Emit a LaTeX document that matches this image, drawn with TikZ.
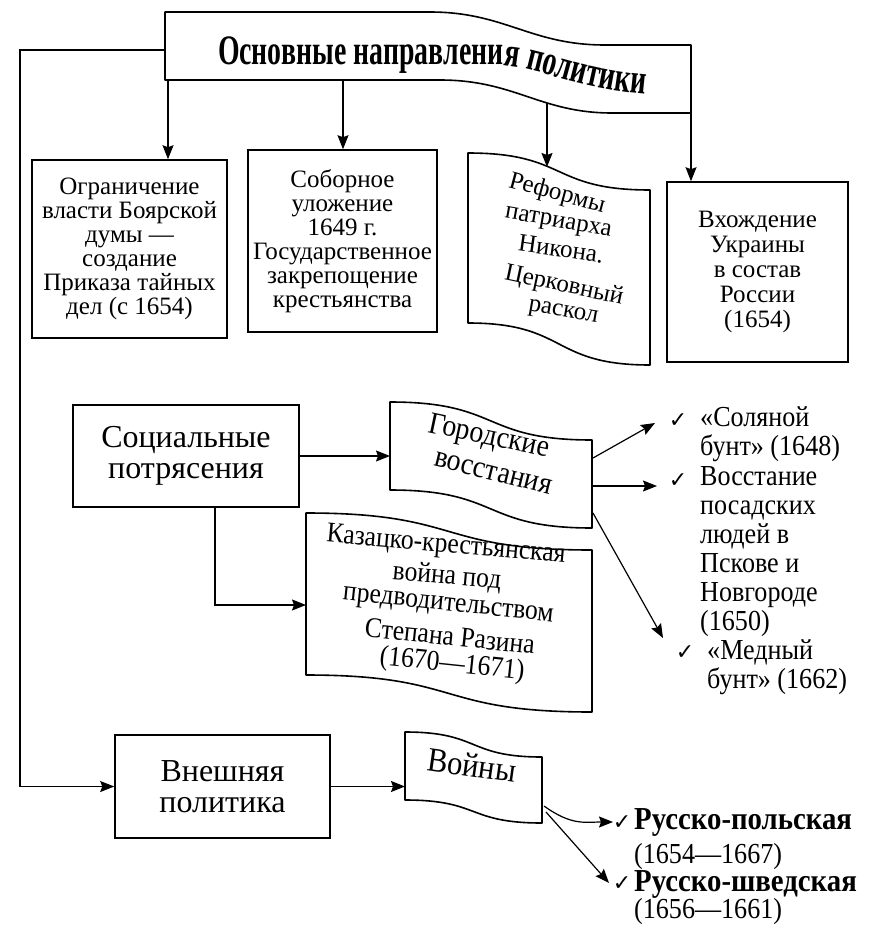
\documentclass[tikz,border=0pt]{standalone}
\usepackage{fontspec}
\setmainfont{Liberation Serif}
\newfontfamily\cond[FakeStretch=0.9]{Liberation Serif}
\newfontfamily\titlef[FakeStretch=0.66]{Liberation Serif}
\newfontfamily\symf{DejaVu Sans}
\usetikzlibrary{arrows.meta,decorations.text,calc}
\tikzset{
  boxline/.style={line width=1.6pt, line join=round},
  rectbox/.style={draw, line width=1.6pt, inner sep=0pt, align=center},
  arr/.style={line width=1.2pt, -{Stealth[length=14pt,width=11pt,inset=2pt]}},
  txtA/.style={inner sep=0pt, align=center, font=\fontsize{25}{24}\selectfont},
  txtB/.style={inner sep=0pt, align=center, font=\cond\fontsize{31}{31}\selectfont},
  txtK/.style={inner sep=0pt, align=center, font=\cond\fontsize{28.5}{28}\selectfont},
  txtR/.style={inner sep=0pt, align=center, font=\fontsize{32}{31}\selectfont},
  txtL/.style={inner sep=0pt, align=left, font=\cond\fontsize{29}{29}\selectfont},
  txtBold/.style={inner sep=0pt, align=left, font=\cond\bfseries\fontsize{32}{30}\selectfont},
  chk/.style={inner sep=0pt, font=\symf\fontsize{22}{22}\selectfont},
}
\newcommand{\wave}[6]{%
  \draw[boxline] (#1,#3) .. controls ({#1+0.55*(#2-#1)},#3) and ({#1+0.45*(#2-#1)},#4) .. (#2,#4)
    -- (#2,#6) .. controls ({#1+0.45*(#2-#1)},#6) and ({#1+0.55*(#2-#1)},#5) .. (#1,#5) -- cycle;}
\begin{document}
\begin{tikzpicture}[x=1pt,y=-1pt]
\useasboundingbox (0,0) rectangle (870,932);

% ---------- banner ----------
\draw[boxline] (165,12) -- (430,12) .. controls (505,12) and (530,45) .. (605,45) -- (691,45)
  -- (691,113) -- (612,113) .. controls (540,113) and (515,80) .. (440,80) -- (165,80) -- cycle;
\path[decorate, decoration={text along path, text align=left,
  text={|\titlef\bfseries\fontsize{42}{42}\selectfont|Основные направления политики}}]
  (218,64) -- (497,65) .. controls (540,66) and (580,92) .. (665,95);
\coordinate (banW) at (165,50);
\coordinate (ban1) at (168,80);
\coordinate (ban2) at (343,80);
\coordinate (ban3) at (547,103);
\coordinate (ban4) at (691,113);

% ---------- top row ----------
\node[rectbox, txtA, minimum width=195, minimum height=178] (b1) at (129.5,249)
  {Ограничение\\власти Боярской\\думы —\\создание\\Приказа тайных\\дел (с 1654)};
\node[rectbox, txtA, minimum width=189, minimum height=182] (b2) at (342.5,241)
  {Соборное\\уложение\\1649 г.\\Государственное\\закрепощение\\крестьянства};
\wave{468}{650}{153}{190}{323}{365}
\coordinate (b3top) at (547,167);
\node[txtA, rotate=-15] (r3a) at (557,194) {Реформы};
\node[txtA, rotate=-10] (r3b) at (558,224) {патриарха};
\node[txtA, rotate=-8]  (r3c) at (561,249) {Никона.};
\node[txtA, rotate=-12] (r3d) at (564,286) {Церковный};
\node[txtA, rotate=-10] (r3e) at (563,313) {раскол};
\node[rectbox, txtA, font=\fontsize{25}{25}\selectfont, minimum width=181, minimum height=180] (b4) at (757.5,272)
  {Вхождение\\Украины\\в состав\\России\\(1654)};

\draw[arr] (ban1) -- (ban1 |- b1.north);
\draw[arr] (ban2) -- (ban2 |- b2.north);
\draw[arr] (ban3) -- (b3top);
\draw[arr] (ban4) -- (ban4 |- b4.north);

% ---------- outer left line ----------
\coordinate (olT) at (20,50);

% ---------- social ----------
\node[rectbox, txtR, minimum width=226, minimum height=102] (soc) at (186,456)
  {Социальные\\потрясения};
\wave{390}{592}{402}{440}{490}{528}
\coordinate (gorW) at (390,456);
\node[txtB, rotate=-12] (gt1) at (489,438) {Городские};
\node[txtB, rotate=-14] (gt2) at (493,473) {восстания};
\draw[arr] (soc.east) -- (gorW);

\wave{306}{592}{513}{550}{675}{712}
\coordinate (kazW) at (306,605);
\node[txtK, rotate=-5] (k1) at (446,546) {Казацко-крестьянская};
\node[txtK, rotate=-5] (k2) at (447,577) {война под};
\node[txtK, rotate=-6] (k3) at (448,607) {предводительством};
\node[txtK, rotate=-6] (k4) at (450,636) {Степана Разина};
\node[txtK, rotate=-6] (k5) at (452,665) {(1670—1671)};
\draw[arr] ($(soc.south)+(29,0)$) |- (kazW);

% right list
\coordinate (gE1) at (593,458);
\coordinate (gE2) at (593,486);
\coordinate (gE3) at (593,513);
\coordinate (t1) at (655,423);
\coordinate (t2) at (657,486);
\coordinate (t3) at (663,638);
\draw[arr] (gE1) -- (t1);
\draw[arr] (gE2) -- (t2);
\draw[arr] (gE3) -- (t3);
\node[chk] (c1) at (678,421) {✓};
\node[txtL, anchor=west] (l1) at (700,434.5) {«Соляной\\бунт» (1648)};
\node[chk] (c2) at (678,481) {✓};
\node[txtL, anchor=west] (l2) at (700,552) {Восстание\\посадских\\людей в\\Пскове и\\Новгороде\\(1650)};
\node[chk] (c3) at (685,653) {✓};
\node[txtL, anchor=west] (l3) at (707,667) {«Медный\\бунт» (1662)};

% ---------- foreign policy ----------
\node[rectbox, txtR, minimum width=215, minimum height=103] (vp) at (222.5,786.5)
  {Внешняя\\политика};
\draw[arr] (banW) -- (olT) -- (olT |- vp.west) -- (vp.west);
\wave{405}{542}{732}{757}{800}{823}
\coordinate (vW) at (405,786.5);
\node[txtB, font=\cond\fontsize{34}{34}\selectfont, rotate=-8] (wt) at (472,765) {Войны};
\draw[arr] (vp.east) -- (vW);
\coordinate (wE1) at (544,806);
\coordinate (wE2) at (546,812);
\coordinate (t4) at (613,822);
\coordinate (t5) at (609,883);
\draw[arr] (wE1) .. controls (572,826) and (585,822) .. (t4);
\draw[arr] (wE2) -- (t5);
\node[chk] (c4) at (622,823) {✓};
\node[txtBold, anchor=west] (r1) at (634,822) {Русско-польская};
\node[txtL, anchor=west] (r1d) at (634,857) {(1654—1667)};
\node[chk] (c5) at (622,884) {✓};
\node[txtBold, anchor=west] (r2) at (634,884) {Русско-шведская};
\node[txtL, anchor=west] (r2d) at (634,912) {(1656—1661)};
\end{tikzpicture}
\end{document}
